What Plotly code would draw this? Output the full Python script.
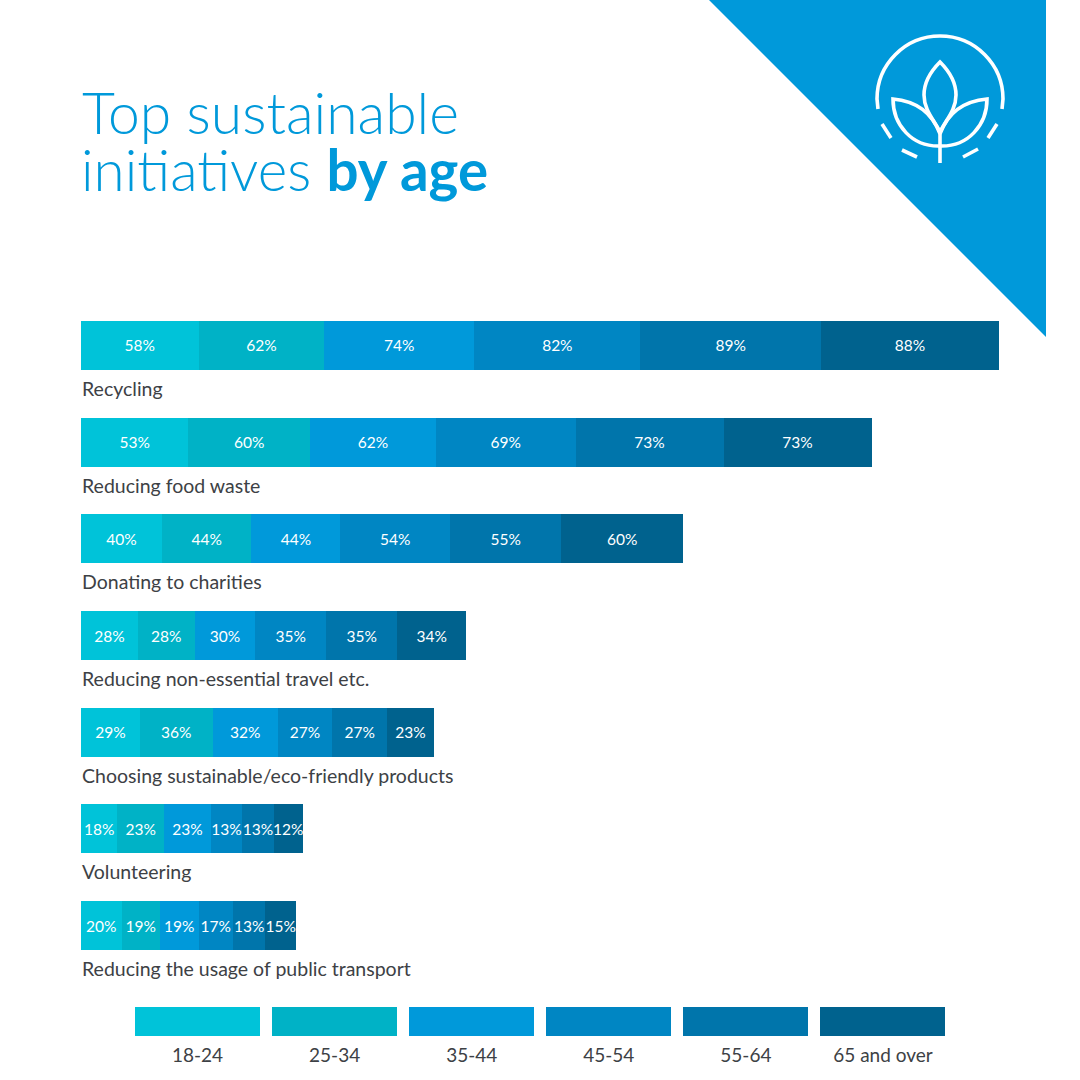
import plotly.graph_objects as go

# age bands, one series per band
age_bands = ["18-24", "25-34", "35-44", "45-54", "55-64", "65 and over"]
band_colours = ["#00C3D9", "#00B2C6", "#0099DA", "#0086C3", "#0075AB", "#00628E"]

initiatives = [
    "Recycling",
    "Reducing food waste",
    "Donating to charities",
    "Reducing non-essential travel etc.",
    "Choosing sustainable/eco-friendly products",
    "Volunteering",
    "Reducing the usage of public transport",
]

# printed percentages
age_18_24 = [58, 53, 40, 28, 29, 18, 20]
age_25_34 = [62, 60, 44, 28, 36, 23, 19]
age_35_44 = [74, 62, 44, 30, 32, 23, 19]
age_45_54 = [82, 69, 54, 35, 27, 13, 17]
age_55_64 = [89, 73, 55, 35, 27, 13, 13]
age_65_up = [88, 73, 60, 34, 23, 12, 15]

# segment lengths as drawn (the small segments in the last rows are drawn
# longer than their printed number)
drawn_18_24 = [58, 53, 40, 28, 29, 18, 20]
drawn_25_34 = [62, 60, 44, 28, 36, 23, 19]
drawn_35_44 = [74, 62, 44, 30, 32, 23, 19]
drawn_45_54 = [82, 69, 54, 35, 27, 15.5, 17]
drawn_55_64 = [89, 73, 55, 35, 27, 15.5, 16]
drawn_65_up = [88, 73, 60, 34, 23, 14.5, 15]

printed = [age_18_24, age_25_34, age_35_44, age_45_54, age_55_64, age_65_up]
drawn = [drawn_18_24, drawn_25_34, drawn_35_44, drawn_45_54, drawn_55_64, drawn_65_up]

SIZE = 1080
FONT = "Lato"
DARK = "#3D4145"
BLUE = "#0099DA"


def pos(x, y):
    return f"{x / SIZE:.5f},{1 - y / SIZE:.5f}"


def icon_line(d):
    return dict(type="path", xref="paper", yref="paper", path=d,
                line=dict(color="white", width=3.6), fillcolor="rgba(0,0,0,0)")


fig = go.Figure()

for band, colour, vals, labels in zip(age_bands, band_colours, drawn, printed):
    fig.add_trace(
        go.Bar(
            name=band,
            y=initiatives,
            x=vals,
            orientation="h",
            width=0.506,
            marker=dict(color=colour, line=dict(width=0)),
            text=[f"{v}%" for v in labels],
            textposition="inside",
            insidetextanchor="middle",
            textangle=0,
            constraintext="none",
            textfont=dict(family=FONT, size=15.5, color="white"),
            hoverinfo="name+x+y",
            xaxis="x",
            yaxis="y",
        )
    )

# legend drawn as its own small bar chart
fig.add_trace(
    go.Bar(
        x=age_bands,
        y=[1] * len(age_bands),
        width=0.912,
        marker=dict(color=band_colours, line=dict(width=0)),
        hoverinfo="x",
        xaxis="x2",
        yaxis="y2",
    )
)

annotations = [
    dict(text=name, x=0, y=name, xref="x", yref="y", xshift=-1, yshift=-43, xanchor="left", yanchor="middle",
         showarrow=False, font=dict(family=FONT, size=19.5, color=DARK))
    for name in initiatives
]
annotations += [
    dict(text="Top sustainable", x=80 / SIZE, y=1 - 112 / SIZE, xref="paper", yref="paper",
         xanchor="left", yanchor="middle", showarrow=False,
         font=dict(family=FONT, size=57, color=BLUE, weight=300)),
    dict(text="initiatives <b>by age</b>", x=79 / SIZE, y=1 - 169 / SIZE, xref="paper", yref="paper",
         xanchor="left", yanchor="middle", showarrow=False,
         font=dict(family=FONT, size=56.5, color=BLUE, weight=300)),
]

shapes = [
    dict(type="path", xref="paper", yref="paper", line=dict(width=0), fillcolor=BLUE, layer="below",
         path=f"M{pos(709, 0)} L{pos(1046, 0)} L{pos(1046, 337)} Z"),
    icon_line(f"M{pos(878, 109)} L{pos(877, 99)} C{pos(877, 64.2)} {pos(905.2, 36)} {pos(940, 36)} "
              f"C{pos(974.8, 36)} {pos(1003, 64.2)} {pos(1003, 99)} L{pos(1002, 109)}"),
    icon_line(f"M{pos(940, 62)} C{pos(930, 72)} {pos(924, 83)} {pos(924, 95)} "
              f"C{pos(924, 110)} {pos(934, 120)} {pos(940, 132)} "
              f"C{pos(946, 120)} {pos(956, 110)} {pos(956, 95)} "
              f"C{pos(956, 83)} {pos(950, 72)} {pos(940, 62)} Z"),
    icon_line(f"M{pos(940, 134)} C{pos(932, 112)} {pos(915, 101)} {pos(893, 99)} "
              f"C{pos(893, 125)} {pos(912, 147)} {pos(940, 146)} "
              f"C{pos(968, 147)} {pos(987, 125)} {pos(987, 99)} "
              f"C{pos(965, 101)} {pos(948, 112)} {pos(940, 134)}"),
    icon_line(f"M{pos(940, 133)} L{pos(940, 163)}"),
    icon_line(f"M{pos(882, 124)} L{pos(891, 138)}"),
    icon_line(f"M{pos(902, 150)} L{pos(917, 157)}"),
    icon_line(f"M{pos(963, 157)} L{pos(978, 149)}"),
    icon_line(f"M{pos(988, 138)} L{pos(997, 124)}"),
]

fig.update_layout(
    width=SIZE,
    height=SIZE,
    autosize=False,
    margin=dict(l=0, r=0, t=0, b=0),
    paper_bgcolor="white",
    plot_bgcolor="white",
    showlegend=False,
    barmode="stack",
    annotations=annotations,
    shapes=shapes,
    xaxis=dict(domain=[81 / SIZE, 1], range=[0, 999 / 2.027], visible=False, fixedrange=True),
    yaxis=dict(domain=[1 - 974 / SIZE, 1 - 297 / SIZE], type="category", categoryorder="array",
               categoryarray=initiatives, range=[6.5, -0.5], visible=False, fixedrange=True),
    xaxis2=dict(domain=[129 / SIZE, 951.5 / SIZE], anchor="y2", type="category", showgrid=False,
                zeroline=False, showline=False, ticks="", ticklabelstandoff=6,
                tickfont=dict(family=FONT, size=19, color=DARK), fixedrange=True),
    yaxis2=dict(domain=[1 - 1036 / SIZE, 1 - 1007 / SIZE], anchor="x2", range=[0, 1], visible=False,
                fixedrange=True),
)

# the page's default body margin would push the chart 8px off
fig.write_html("out.html", config={"displayModeBar": False}, post_script="document.body.style.margin='0';")
